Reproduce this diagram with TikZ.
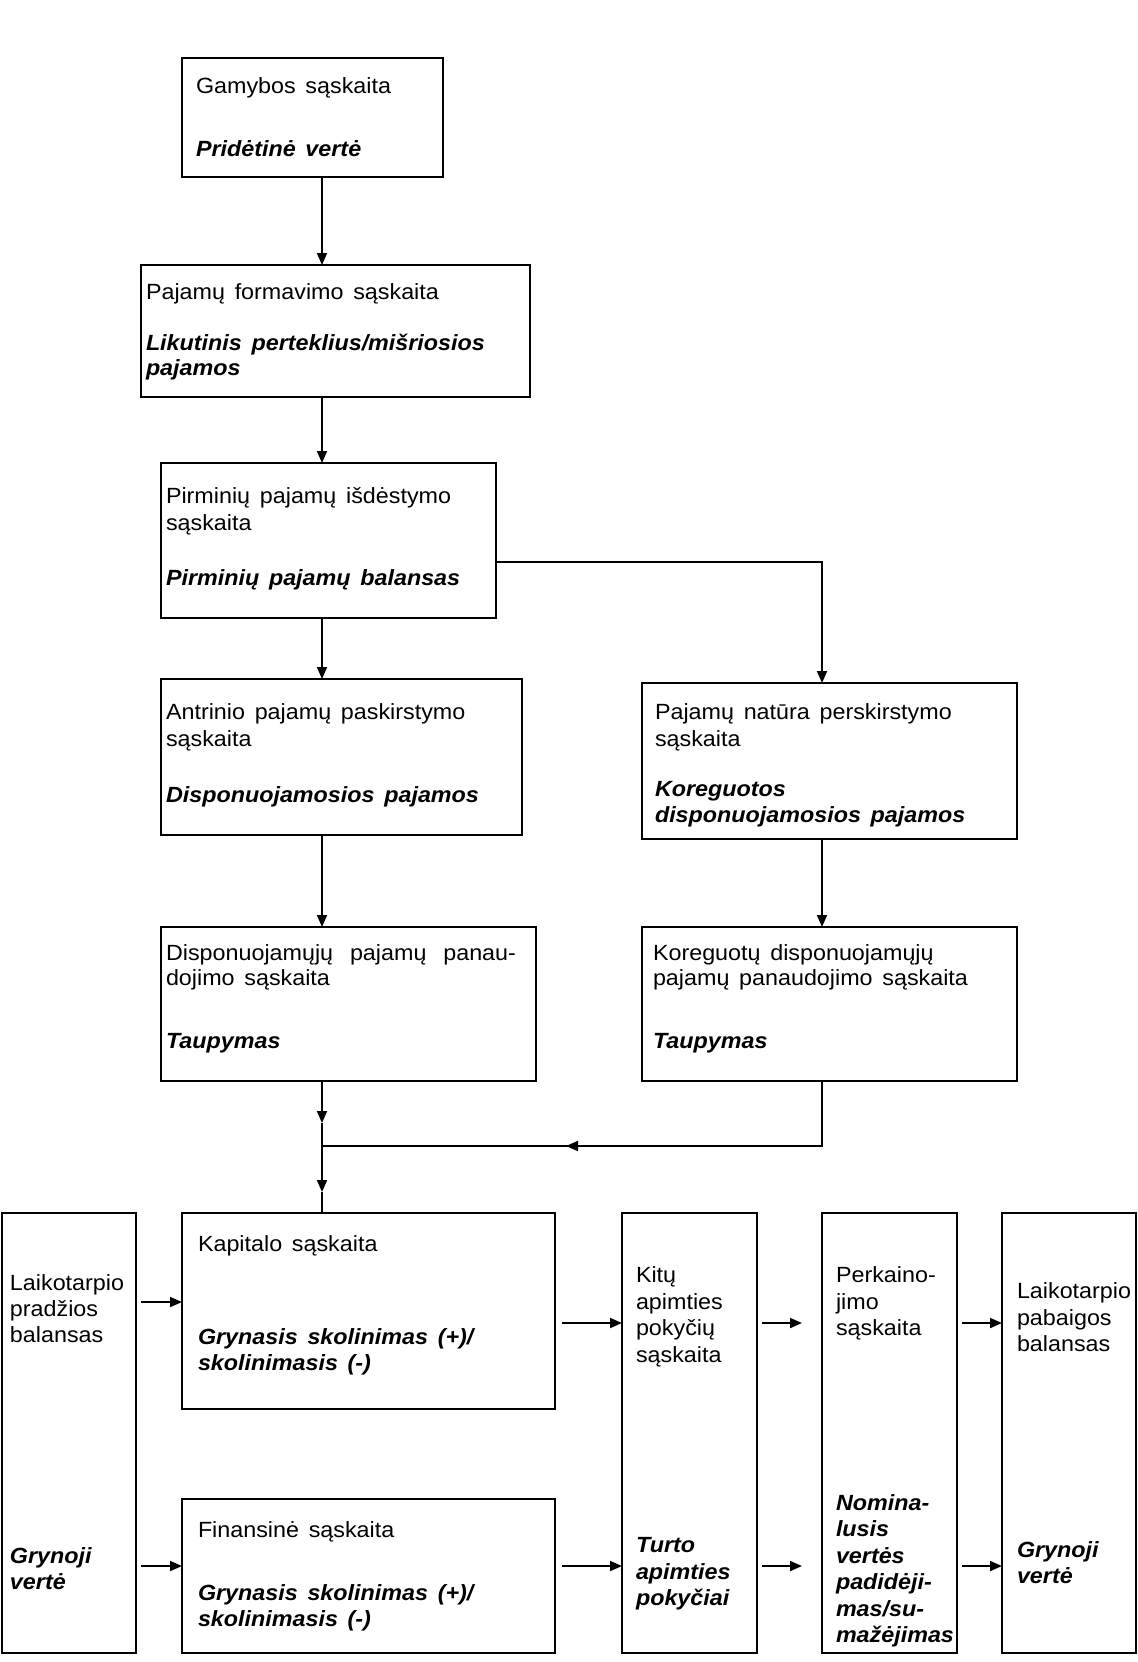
\documentclass[tikz,border=0pt]{standalone}
\usepackage{fontspec}
\setmainfont{Liberation Sans}[FakeStretch=1.06,WordSpace=1.5]
\usetikzlibrary{arrows.meta}
\begin{document}
\begin{tikzpicture}[x=0.5pt,y=-0.5pt,
 box/.style={draw,line width=1.1pt,rectangle,inner sep=0pt,outer sep=0pt,anchor=north west},
 txt/.style={anchor=base west,inner sep=0pt,outer sep=0pt,font=\fontsize{11}{12.5}\selectfont},
 bi/.style={anchor=base west,inner sep=0pt,outer sep=0pt,font=\fontsize{11}{12.5}\selectfont\bfseries\itshape},
 arr/.style={line width=0.9pt,-{Triangle[length=6pt,width=5pt]}},
 ln/.style={line width=0.9pt}]
\useasboundingbox[fill=white] (0,0) rectangle (1138,1662);
% boxes
\node[box,minimum width=130.5pt,minimum height=59.5pt] (b1) at (182,58) {};
\node[box,minimum width=194.5pt,minimum height=66pt] (b2) at (141,265) {};
\node[box,minimum width=167.5pt,minimum height=77.5pt] (b3) at (161,463) {};
\node[box,minimum width=180.5pt,minimum height=78pt] (b4) at (161,679) {};
\node[box,minimum width=187.5pt,minimum height=78pt] (b5) at (642,683) {};
\node[box,minimum width=187.5pt,minimum height=77pt] (b6) at (161,927) {};
\node[box,minimum width=187.5pt,minimum height=77pt] (b7) at (642,927) {};
\node[box,minimum width=67pt,minimum height=220pt] (bL) at (2,1213) {};
\node[box,minimum width=186.5pt,minimum height=98pt] (bK) at (182,1213) {};
\node[box,minimum width=186.5pt,minimum height=77pt] (bF) at (182,1499) {};
\node[box,minimum width=67.5pt,minimum height=220pt] (bO) at (622,1213) {};
\node[box,minimum width=67.5pt,minimum height=220pt] (bP) at (822,1213) {};
\node[box,minimum width=67pt,minimum height=220pt] (bE) at (1002,1213) {};
% texts
\node[txt] (t1a) at (196,93) {Gamybos sąskaita};
\node[bi]  (t1b) at (196,156) {Pridėtinė vertė};
\node[txt] (t2a) at (146,299) {Pajamų formavimo sąskaita};
\node[bi]  (t2b) at (146,350) {Likutinis perteklius/mišriosios};
\node[bi]  (t2c) at (146,375) {pajamos};
\node[txt] (t3a) at (166,503) {Pirminių pajamų išdėstymo};
\node[txt] (t3b) at (166,530) {sąskaita};
\node[bi]  (t3c) at (166,585) {Pirminių pajamų balansas};
\node[txt] (t4a) at (166,719) {Antrinio pajamų paskirstymo};
\node[txt] (t4b) at (166,746) {sąskaita};
\node[bi]  (t4c) at (166,802) {Disponuojamosios pajamos};
\node[txt] (t5a) at (655,719) {Pajamų natūra perskirstymo};
\node[txt] (t5b) at (655,746) {sąskaita};
\node[bi]  (t5c) at (655,796) {Koreguotos};
\node[bi]  (t5d) at (655,822) {disponuojamosios pajamos};
\node[txt] (t6a) at (166,960) {\hbox to 175pt{Disponuojamųjų\hfill pajamų\hfill panau-}};
\node[txt] (t6b) at (166,985) {dojimo sąskaita};
\node[bi]  (t6c) at (166,1048) {Taupymas};
\node[txt] (t7a) at (653,960) {Koreguotų disponuojamųjų};
\node[txt] (t7b) at (653,985) {pajamų panaudojimo sąskaita};
\node[bi]  (t7c) at (653,1048) {Taupymas};
\node[txt] (tKa) at (198,1251) {Kapitalo sąskaita};
\node[bi]  (tKb) at (198,1344) {Grynasis skolinimas (+)/};
\node[bi]  (tKc) at (198,1370) {skolinimasis (-)};
\node[txt] (tFa) at (198,1537) {Finansinė sąskaita};
\node[bi]  (tFb) at (198,1600) {Grynasis skolinimas (+)/};
\node[bi]  (tFc) at (198,1626) {skolinimasis (-)};
\node[txt] (tLa) at (10,1290) {Laikotarpio};
\node[txt] (tLb) at (10,1316) {pradžios};
\node[txt] (tLc) at (10,1342) {balansas};
\node[bi]  (tLd) at (10,1563) {Grynoji};
\node[bi]  (tLe) at (10,1589) {vertė};
\node[txt] (tOa) at (636,1282) {Kitų};
\node[txt] (tOb) at (636,1309) {apimties};
\node[txt] (tOc) at (636,1335) {pokyčių};
\node[txt] (tOd) at (636,1362) {sąskaita};
\node[bi]  (tOe) at (636,1552) {Turto};
\node[bi]  (tOf) at (636,1579) {apimties};
\node[bi]  (tOg) at (636,1605) {pokyčiai};
\node[txt] (tPa) at (836,1282) {Perkaino-};
\node[txt] (tPb) at (836,1309) {jimo};
\node[txt] (tPc) at (836,1335) {sąskaita};
\node[bi]  (tPd) at (836,1510) {Nomina-};
\node[bi]  (tPe) at (836,1536) {lusis};
\node[bi]  (tPf) at (836,1563) {vertės};
\node[bi]  (tPg) at (836,1589) {padidėji-};
\node[bi]  (tPh) at (836,1616) {mas/su-};
\node[bi]  (tPi) at (836,1642) {mažėjimas};
\node[txt] (tEa) at (1017,1298) {Laikotarpio};
\node[txt] (tEb) at (1017,1325) {pabaigos};
\node[txt] (tEc) at (1017,1351) {balansas};
\node[bi]  (tEd) at (1017,1557) {Grynoji};
\node[bi]  (tEe) at (1017,1583) {vertė};
% helper coordinates
\coordinate (xL) at (322,0);
\coordinate (xR) at (822,0);
\coordinate (yA) at (0,562);
\coordinate (J) at (322,1146);
\coordinate (C2) at (822,1146);
\coordinate (m1) at (322,1123);
\coordinate (m2) at (322,1192);
\coordinate (m3) at (566,1146);
\coordinate (yU) at (0,1323);
\coordinate (yU0) at (0,1302);
\coordinate (yD) at (0,1566);
% vertical connectors
\draw[arr] (b1.south -| xL) -- (b2.north -| xL);
\draw[arr] (b2.south -| xL) -- (b3.north -| xL);
\draw[arr] (b3.south -| xL) -- (b4.north -| xL);
\draw[arr] (b4.south -| xL) -- (b6.north -| xL);
\draw[arr] (b3.east |- yA) -| (b5.north -| xR);
\draw[arr] (b5.south -| xR) -- (b7.north -| xR);
\draw[arr] (b6.south -| xL) -- (m1);
\draw[ln] (m1) -- (J);
\draw[arr] (J) -- (m2);
\draw[ln] (m2) -- (bK.north -| xL);
\draw[ln] (b7.south -| xR) -- (C2) -- (J);
\draw[arr] (C2) -- (m3);
% horizontal connectors, upper row
\draw[arr,shorten <=2.5pt] (bL.east |- yU0) -- (bK.west |- yU0);
\draw[arr,shorten <=3.5pt] (bK.east |- yU) -- (bO.west |- yU);
\draw[arr,shorten <=2.5pt,shorten >=10pt] (bO.east |- yU) -- (bP.west |- yU);
\draw[arr,shorten <=2.5pt] (bP.east |- yU) -- (bE.west |- yU);
% lower row
\draw[arr,shorten <=2.5pt] (bL.east |- yD) -- (bF.west |- yD);
\draw[arr,shorten <=3.5pt] (bF.east |- yD) -- (bO.west |- yD);
\draw[arr,shorten <=2.5pt,shorten >=10pt] (bO.east |- yD) -- (bP.west |- yD);
\draw[arr,shorten <=2.5pt] (bP.east |- yD) -- (bE.west |- yD);
\end{tikzpicture}
\end{document}
